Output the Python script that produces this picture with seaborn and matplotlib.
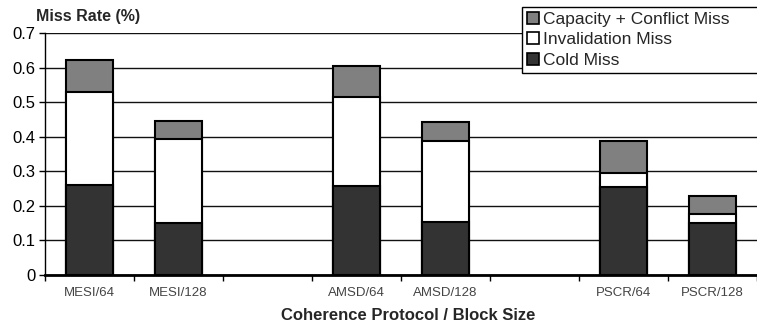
import numpy as np
import pandas as pd
import matplotlib
matplotlib.use("Agg")
import matplotlib.pyplot as plt
import seaborn as sns
from matplotlib.patches import Patch

# ---- data ----
categories = ["MESI/64", "MESI/128", "AMSD/64", "AMSD/128", "PSCR/64", "PSCR/128"]
slots = ["MESI/64", "MESI/128", " ", "AMSD/64", "AMSD/128", "  ", "PSCR/64", "PSCR/128"]
cold = [0.26, 0.15, 0.256, 0.152, 0.255, 0.15]
invalidation = [0.268, 0.243, 0.259, 0.236, 0.04, 0.027]
capacity = [0.095, 0.052, 0.09, 0.055, 0.093, 0.052]
yticks = [0, 0.1, 0.2, 0.3, 0.4, 0.5, 0.6, 0.7]
ytick_labels = ["0", "0.1", "0.2", "0.3", "0.4", "0.5", "0.6", "0.7"]
series_names = ["Capacity + Conflict Miss", "Invalidation Miss", "Cold Miss"]
series_colors = ["#808080", "#ffffff", "#333333"]

df = pd.DataFrame({"category": categories, "cold": cold,
                   "invalidation": invalidation, "capacity": capacity})
df["lvl_cold"] = df["cold"]
df["lvl_inv"] = df["cold"] + df["invalidation"]
df["lvl_total"] = df["lvl_inv"] + df["capacity"]

sns.set_theme(style="white")
plt.rcParams["font.family"] = ["Liberation Sans", "DejaVu Sans"]

fig = plt.figure(figsize=(7.57, 3.25), dpi=100)
ax = fig.add_axes([45 / 757, 50 / 325, 712 / 757, 242 / 325])

edge_lw = 1.5
for col, color in zip(["lvl_total", "lvl_inv", "lvl_cold"], series_colors):
    sns.barplot(data=df, x="category", y=col, order=slots, color=color,
                saturation=1, width=0.52, edgecolor="black", linewidth=edge_lw,
                errorbar=None, ax=ax, zorder=3)

ax.set_xlim(-0.5, 7.41)
ax.set_ylim(0, 0.7)
ax.set_yticks(yticks)
ax.set_yticklabels(ytick_labels, fontsize=12, color="black")
ax.yaxis.grid(True, color="#111111", linewidth=1.0, zorder=0)
ax.set_axisbelow(True)

# x: tick marks at slot boundaries, labels at bar centres
ax.set_xticks(np.arange(-0.5, 8, 1))
ax.set_xticklabels([""] * len(np.arange(-0.5, 8, 1)))
centers = [slots.index(c) for c in categories]
ax.set_xticks(centers, minor=True)
ax.set_xticklabels(categories, minor=True, fontsize=9.5, color="#444444")
ax.tick_params(axis="x", which="major", direction="out", length=4, width=1,
               color="black", bottom=True)
ax.tick_params(axis="x", which="minor", length=0, pad=9)
ax.tick_params(axis="y", direction="out", length=4, width=1, color="black",
               left=True, pad=3)

ax.set_xlabel("")
ax.set_ylabel("")
for s in ["top", "right"]:
    ax.spines[s].set_visible(False)
ax.spines["left"].set_color("black")
ax.spines["left"].set_linewidth(1.0)
ax.spines["bottom"].set_color("black")
ax.spines["bottom"].set_linewidth(2.0)

fig.text(36 / 757, 1 - 21 / 325, "Miss Rate (%)", fontsize=11.5,
         fontweight="bold", ha="left", va="baseline")
fig.text(408 / 757, 1 - 316 / 325, "Coherence Protocol / Block Size",
         fontsize=12, fontweight="bold", ha="center", va="center")

handles = [Patch(facecolor=c, edgecolor="black", linewidth=1.2, label=n)
           for n, c in zip(series_names, series_colors)]
leg = fig.legend(handles=handles, loc="lower left", mode="expand",
                 bbox_to_anchor=(522 / 757, 1 - 73 / 325, 250 / 757, 0.3),
                 bbox_transform=fig.transFigure, fontsize=12.5,
                 frameon=True, fancybox=False, shadow=False,
                 handlelength=0.7, handleheight=0.7, handletextpad=0.2,
                 labelspacing=0.3, borderpad=0.3, borderaxespad=0)
leg.get_frame().set_edgecolor("black")
leg.get_frame().set_linewidth(1.0)
leg.get_frame().set_facecolor("white")
leg.get_frame().set_alpha(1)

fig.savefig("out.png", dpi=100, facecolor="white")
